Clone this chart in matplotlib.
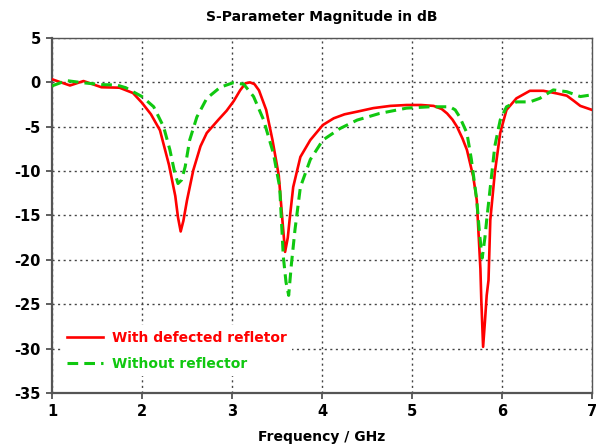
import matplotlib
matplotlib.use("Agg")
import matplotlib.pyplot as plt

red_x = [1.0, 1.1, 1.2, 1.35, 1.55, 1.75, 1.9, 2.0, 2.1, 2.2, 2.3, 2.37, 2.4, 2.43, 2.46, 2.5, 2.57, 2.65, 2.72, 2.85, 2.94, 3.02, 3.09, 3.15, 3.2, 3.25, 3.3, 3.38, 3.45, 3.52, 3.56, 3.59, 3.62, 3.64, 3.68, 3.76, 3.87, 4.01, 4.13, 4.25, 4.39, 4.57, 4.76, 4.94, 5.1, 5.24, 5.33, 5.39, 5.45, 5.5, 5.56, 5.61, 5.68, 5.72, 5.76, 5.77, 5.79, 5.81, 5.83, 5.85, 5.87, 5.92, 5.98, 6.05, 6.16, 6.31, 6.46, 6.61, 6.72, 6.8, 6.87, 7.0]
red_y = [0.35, 0.0, -0.35, 0.15, -0.55, -0.6, -1.2, -2.3, -3.6, -5.4, -9.3, -12.8, -15.2, -16.8, -15.6, -13.3, -9.9, -7.2, -5.7, -4.2, -3.2, -2.1, -0.9, -0.1, 0.0, -0.2, -0.9, -3.1, -6.5, -10.5, -15.5, -19.1, -17.5, -15.5, -11.8, -8.4, -6.5, -4.8, -4.05, -3.6, -3.3, -2.9, -2.65, -2.55, -2.55, -2.65, -3.0, -3.5, -4.2, -5.0, -6.3, -7.6, -10.6, -13.3, -21.0, -24.5, -29.8, -27.0, -24.0, -22.3, -15.5, -10.2, -5.7, -3.1, -1.8, -0.95, -0.95, -1.25, -1.5, -2.1, -2.65, -3.1]

green_x = [1.0, 1.16, 1.35, 1.55, 1.72, 1.82, 1.9, 2.0, 2.13, 2.24, 2.31, 2.36, 2.4, 2.44, 2.48, 2.53, 2.61, 2.72, 2.87, 3.01, 3.13, 3.24, 3.35, 3.46, 3.53, 3.57, 3.6, 3.63, 3.66, 3.70, 3.76, 3.87, 4.01, 4.2, 4.39, 4.64, 4.94, 5.2, 5.42, 5.48, 5.53, 5.61, 5.66, 5.72, 5.75, 5.78, 5.81, 5.83, 5.87, 5.92, 5.98, 6.05, 6.16, 6.31, 6.42, 6.57, 6.72, 6.87, 7.0]
green_y = [-0.4, 0.2, -0.05, -0.25, -0.3, -0.6, -1.05, -1.6, -2.75, -5.0, -7.6, -10.0, -11.4, -11.0, -9.5, -6.5, -3.9, -1.8, -0.55, -0.05, -0.2, -1.6, -4.2, -8.0, -11.8, -19.6, -22.5, -24.0, -20.5, -16.6, -11.8, -8.7, -6.5, -5.2, -4.25, -3.5, -2.9, -2.75, -2.75, -3.1, -3.9, -5.7, -8.7, -13.3, -17.0, -19.8, -17.5, -15.5, -11.8, -7.2, -4.25, -2.75, -2.2, -2.2, -1.8, -0.85, -1.05, -1.6, -1.4]

x_ticks = [1, 2, 3, 4, 5, 6, 7]
y_ticks = [5, 0, -5, -10, -15, -20, -25, -30, -35]

title = "S-Parameter Magnitude in dB"
xlabel = "Frequency / GHz"
label_red = "With defected refletor"
label_green = "Without reflector"

plt.rcParams['font.family'] = ['DejaVu Sans']
fig = plt.figure(figsize=(5.96, 4.47), dpi=100)
ax = fig.add_axes([0.0872, 0.1208, 0.9061, 0.7942])

ax.plot(red_x, red_y, color='#ff0000', lw=1.9, label=label_red, zorder=3)
ax.plot(green_x, green_y, color='#10c810', lw=2.2, ls=(0, (3.5, 2)), label=label_green, zorder=3)

ax.set_xlim(1, 7)
ax.set_ylim(-35, 5)
ax.set_xticks(x_ticks)
ax.set_yticks(y_ticks)
ax.set_xticklabels([str(t) for t in x_ticks], fontweight='bold', fontsize=10.5)
ax.set_yticklabels([str(t) for t in y_ticks], fontweight='bold', fontsize=10.5)
ax.tick_params(direction='out', length=4, width=1.2, color='#444444', pad=4)
ax.grid(True, color='#444444', ls=(0, (1.5, 2.5)), lw=1.0)
ax.set_axisbelow(True)
for s in ['left', 'bottom']:
    ax.spines[s].set_color('#555555')
    ax.spines[s].set_linewidth(1.6)
for s in ['top', 'right']:
    ax.spines[s].set_color('#555555')
    ax.spines[s].set_linewidth(1.0)

ax.set_title(title, fontweight='bold', fontsize=10, pad=12)
ax.set_xlabel(xlabel, fontweight='bold', fontsize=10, labelpad=8)

leg = ax.legend(loc='lower left', bbox_to_anchor=(0.01, 0.035), frameon=True,
                facecolor='white', edgecolor='white', framealpha=1.0,
                prop={'weight': 'bold', 'size': 10},
                handlelength=2.6, handletextpad=0.6, labelspacing=0.85, borderaxespad=0.3)
for txt, c in zip(leg.get_texts(), ['#ff0000', '#10c810']):
    txt.set_color(c)
leg.get_frame().set_linewidth(0)

fig.savefig('out.png', dpi=100)
